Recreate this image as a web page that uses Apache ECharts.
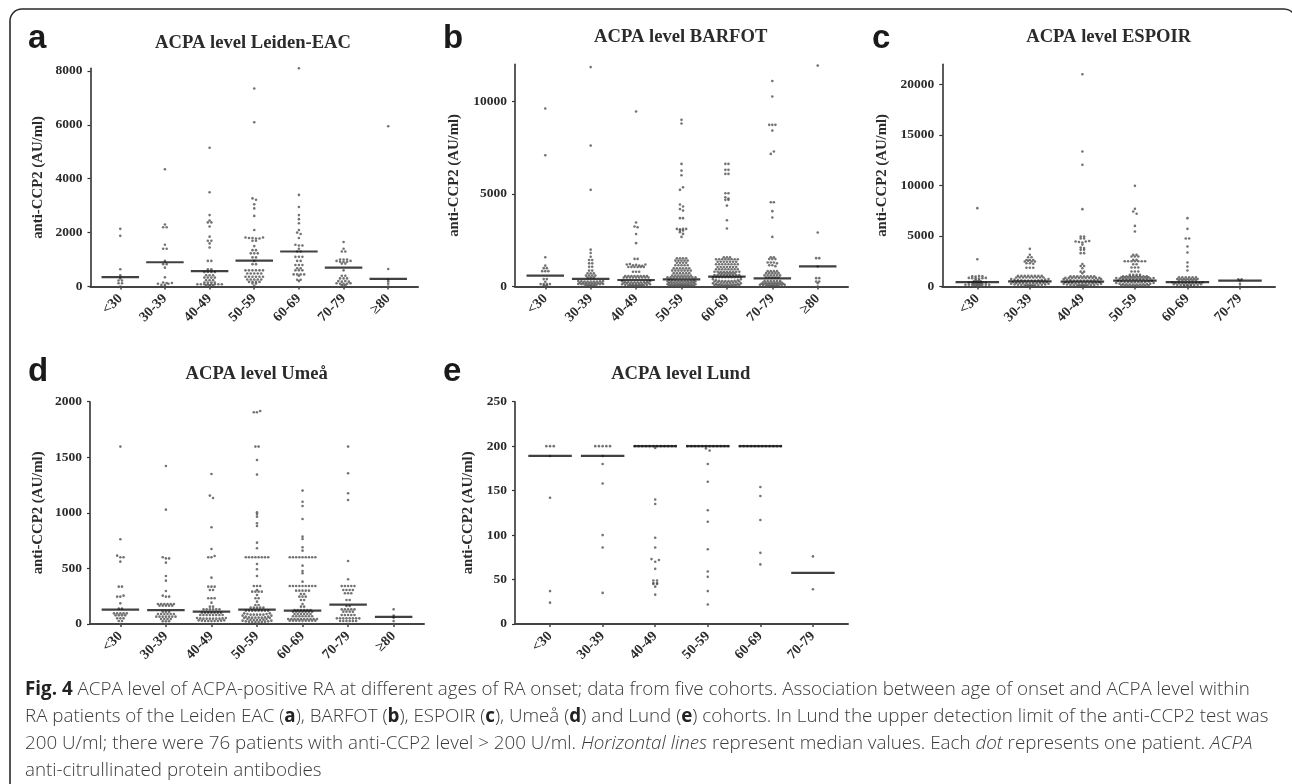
<!DOCTYPE html>
<html><head><meta charset="utf-8">
<style>html,body{margin:0;padding:0;background:#fff}#c{width:1292px;height:784px;filter:blur(0.35px)}</style>
<script src="https://cdn.jsdelivr.net/npm/echarts@6/dist/echarts.min.js"></script>
</head><body><div id="c"></div>
<script>
// Age groups
const agesSeven = ['<30','30-39','40-49','50-59','60-69','70-79','≥80'];
const agesSix = ['<30','30-39','40-49','50-59','60-69','70-79'];

// Tick labels
const leidenTicks = [0,2000,4000,6000,8000];
const barfotTicks = [0,5000,10000];
const espoirTicks = [0,5000,10000,15000,20000];
const umeaTicks = [0,500,1000,1500,2000];
const lundTicks = [0,50,100,150,200,250];

// Medians per age group
const leidenMedians = [350,900,570,960,1300,700,280];
const barfotMedians = [590,410,350,390,530,440,1090];
const espoirMedians = [430,510,480,580,430,590];
const umeaMedians = [130,125,111,130,120,175,65];
const lundMedians = [189,189,200,200,200,57.5];

// Patient values per age group; each inner list is one horizontal row of dots
const leidenRows = [
 [[2140],[1880],[640],[420],[300],[220,220],[120,120],[0]],
 [[4350],[2300],[2200,2200],[1550],[1400,1400],[950],[830,830],[700],[340],[150,130],[100,60,60,100,130],[0]],
 [[5150],[3500],[2650],[2450],[2380,2380],[2230],[1850],[1700,1700],[1600],[1450],[950,950],[640,640],[540,540,540,540],[420,420,420],[330,330,330,330],[235,235,235],[148,148,148,148],[85,85,85,85,85,85,85,85],[40,40,40],[0]],
 [[7350],[6100],[3270,3220],[3050],[2900],[2620],[2100],[1820,1800,1800,1780,1780,1820],[1700,1700],[1500],[1350,1350],[1230,1230,1230],[1080,1080],[950],[830,830],[600,600,600,600,600,600],[480,480,480,480,480],[360,360,360,360,360,360],[260,260,260,260,260],[170,170,170,170],[110,110],[30]],
 [[8100],[3400],[2950],[2650],[2500],[2350],[2100],[2000,1950],[1800],[1550,1520,1520],[1400],[1300,1300],[1100,1100,1100],[950,950],[800,800,800],[680,680],[600,600,600],[450,450,450,450],[400],[250,250],[200]],
 [[1650],[1400],[1300,1300],[1000,1000,1000],[950,920,920,920,950],[850,850],[600],[400,400],[300,300,300],[200,180,200,180],[120,100,100,100,120],[50,50],[0]],
 [[5950],[650],[250],[185],[100],[0]]
];
const barfotRows = [
 [[9610],[7090],[1580],[1130],[990,990],[830,830,830],[400,400],[260],[130,130,130,130],[70,70],[0]],
 [[11850],[7610],[5220],[1990],[1810],[1610],[1430,1430],[1250,1250],[1070,1070],[860,860],[710,710,710],[590,590,590,590],[480,480,480],[300,280,270,270,270,270,270,280,300],[200,190,180,180,180,180,190,200],[140,120,110,100,100,100,110,120,140],[40,40,40,40],[0]],
 [[9450],[3460],[3240,3200],[2830],[2340],[1490,1490],[1190,1210,1150,1170,1130,1120,1190],[1050,1050,1050,1050,1050,1050],[800,800,800],[570,570,570,570,570,570,570,570],[480,480,480,480,480,480,480,480,480],[290,260,240,230,230,230,230,240,260,290],[200,170,150,140,140,140,150,170,200],[120,90,70,60,50,50,60,70,90,120],[30,30,30,30,30],[0]],
 [[9000],[8800],[6620],[6260],[6010],[5220,5360],[4430,4320],[4180,4100],[3690,3690],[3110,3090,3110,3110],[3020,3020],[2930,2840],[2680],[1520,1520,1520,1520],[1400,1400,1400,1400,1400],[1280,1280,1280,1280],[1150,1150,1150,1150,1150],[980,980,980,980,980,980],[860,860,860,860,860,860,860],[720,720,720,720,720,720],[590,590,590,590,590,590,590],[500,500,500,500,500,500,500,500,500,500],[360,330,310,300,300,300,300,310,330],[270,240,220,210,210,210,210,220,240,270],[190,160,140,130,130,130,140,160,190],[120,90,70,60,60,60,60,70,90,120],[50,40,30,20,20,20,30,40,50],[0]],
 [[6620,6620],[6300,6300],[6080,6080],[5040,5040],[4820,4750],[4680,4680],[4370],[3580],[3130],[1575,1575,1575],[1470,1470,1470,1470,1470,1470,1470,1470],[1340,1340,1340,1340,1340,1340,1340],[1200,1200,1200,1200,1200,1200,1200,1200],[1055,1055,1055,1055,1055,1055,1055],[930,930,930,930,930,930,930,930],[800,800,800,800,800,800,800,800,800],[710,710,710,710,710,710],[620,620,620,620,620,620,620,620,620],[500,500,500,500,500,500,500,500,500,500],[390,340,310,300,290,290,300,310,340,390],[270,230,210,200,190,200,210,230,270],[170,130,110,100,90,90,100,110,130,170],[80,60,50,40,40,40,50,60,80],[0]],
 [[11100],[10260],[8730,8730,8730],[8420],[7160,7290],[4550,4550],[4070],[3730],[2680],[1580,1580],[1480,1480,1480],[1300,1300,1300,1250],[1150,1150,1100],[830,830,830,830],[720,720,720,720,720],[600,600,600,600,600,600],[480,480,480,480,480],[300,300,300,300,300,300],[220,200,200,200,200,200,220],[150,150,150,150,150,150,150,150],[90,80,70,70,70,70,70,80,90],[30,30,30,30],[0]],
 [[11930],[2920],[1530,1530],[1080],[450,450],[270,270],[180],[0]]
];
const espoirRows = [
 [[7755],[2700],[1020,980,1040,1020],[850,820,800,790,820,850],[650,650],[520,520,520],[400,400,400,400,400,400],[280,280,280],[170,170,170,170,170,170,170,170],[70,70,70],[0]],
 [[3730],[3150],[2900,2900],[2620,2620,2620],[2470,2550,2470,2470],[2300,2300,2250],[1850,1850,1850],[1050,1050,1050,1050,1050,1050,1050,1050],[890,890,890,890,890,890,890,890,890],[740,680,630,610,600,600,600,600,610,630,680,740],[440,380,340,320,310,300,310,320,340,380,440],[270,210,170,140,130,120,120,130,140,170,210,270],[70,70,70],[0]],
 [[21020],[13365],[12045],[7656],[4950,4950],[4750,4750],[4450,4400,4350,4450,4500],[4150],[3850,3800],[3630,3630],[3300,3300],[2230],[2030,2030],[1800],[1470,1470],[1300],[1000,1000,1000,1000,1000,1000,1000,1000],[850,850,850,850,850,850,850,850,850,850,850],[730,670,630,600,590,590,590,590,600,630,670,730],[430,370,330,300,290,280,290,300,330,370,430],[260,200,160,130,120,110,110,120,130,160,200,260],[70,70,70],[0]],
 [[9966],[7690],[7425,7200],[6000],[5445],[3135,3135],[2970,2970,2970],[2640,2640],[2500,2500,2500,2500,2500,2500,2500],[2200,2200],[1880,1880,1880],[1480,1480,1480],[1150,1150,1150,1150],[1000,1000,1000,1000,1000,1000,1000,1000],[900,900,900,900,900,900,900,900,900],[840,790,760,750,740,740,740,740,750,760,790,840],[560,490,450,430,420,410,420,430,450,490,560],[340,280,240,210,200,190,190,200,210,240,280,340],[120,90,70,60,50,60,70,90,120],[0]],
 [[6765],[5710],[4750,4750],[3960],[3366],[2376],[1980],[1584],[900,900,900,900,900,900],[750,750,750,750,750,750,750],[620,620,620,620,620,620],[420,370,340,320,320,320,320,340,370,420],[220,180,150,140,140,140,150,180,220],[70,70,70],[0]],
 [[720,720],[590],[270],[0]]
];
const umeaRows = [
 [[1596],[762],[615,600,600],[561],[336,336],[246,246,255],[186],[138,138],[96,96,96,96,96],[78,78,78,78],[51,51,51],[27,27],[0]],
 [[1422],[1029],[600,590,590],[552],[432],[390],[297],[255,246,246],[180,180,180,180,180,180],[165,165,165,165,165],[110,110,110],[90,90,90,90,90,90],[66,66,66,66,66,66,66],[45,45,45,45],[25,25,25],[0]],
 [[1350],[1155,1134],[870],[675],[600,600,612],[417],[336,336,336],[306,306],[231,231,231],[192],[156,156],[132,132,132,132,132,132],[102,102,102,102,102,102,102],[81,81,81,81,81,81,81,81],[54,51,48,48,48,48,48,48,51,54],[33,30,27,27,27,27,27,30,33],[0]],
 [[1905,1905,1917],[1596,1596],[1476],[1344],[1005],[990],[966],[906],[882],[732],[681],[600,600,600,600,600,600,600,600],[540],[492],[432],[342,342,342],[306],[291,291,291,291],[261],[231,231],[201],[171,171],[147,147,147,147,147],[120,120,120,120,120,120,120,120],[96,90,84,84,84,84,84,90,96],[75,66,60,57,57,57,57,60,66,75],[54,45,39,36,36,36,39,45,54],[30,24,21,18,18,18,18,21,24,30],[0]],
 [[1200],[1100],[1062],[945],[786],[765],[690],[660],[600,600,600,600,600,600,600,600,600],[525],[477],[456],[381],[342,342,342,342,342,342,342,342,342],[300,300,300,300,300],[270,270],[246,246,246],[216,216],[180],[156,156],[126,126,126,126,126,126],[110,110,110,110,110,110,110],[90,90,90,90,90,90],[70,70,70,70,70,70,70],[45,45,45,45,45,45,45,45,45,45],[30,30,30,30,30,30,30,30,30],[0]],
 [[1596],[1356],[1176],[1116],[567],[402],[342,342,342,342,342],[306,306,306,306],[276,276,276],[216,216],[162,162],[132,132,132,132,132],[111,111,111,111],[81,81,81,81,81],[51,51,51,51,51,51,51,51],[27,27,27,27,27,27],[0]],
 [[132],[75],[57],[27],[0]]
];
const lundRows = [
 [[200,200,200],[189],[142],[37],[24]],
 [[200,200,200,200,200],[189],[180],[158],[100],[86],[35]],
 [[200,200,200,200,200,200,200,200,200,200,200,200],[198],[140],[135],[97],[86],[73,70,72],[62],[49,49],[46,46],[45,45],[42],[33]],
 [[200,200,200,200,200,200,200,200,200,200,200,200],[197.5,195],[180],[160],[128],[115],[84],[59],[53],[37],[22]],
 [[200,200,200,200,200,200,200,200,200,200,200,200],[154],[144],[117],[80],[67]],
 [[76],[39]]
];

// Panel geometry
const panels = [
 {key:'a',title:'ACPA level Leiden-EAC',tx:253,ty:42.7,lx:28,ly:49,l:90.5,r:418,t:68.3,b:286.5,max:8100,cats:agesSeven,ticks:leidenTicks,rows:leidenRows,med:leidenMedians,gap:44.5,step:3.5,mw:37.5},
 {key:'b',title:'ACPA level BARFOT',tx:680.7,ty:36.7,lx:443,ly:49,l:515,r:848,t:64.3,b:286.5,max:12000,cats:agesSeven,ticks:barfotTicks,rows:barfotRows,med:barfotMedians,gap:53,step:3.1,mw:37.5},
 {key:'c',title:'ACPA level ESPOIR',tx:1108.7,ty:36.7,lx:872,ly:49,l:942.3,r:1275,t:64.3,b:286.5,max:22000,cats:agesSix,ticks:espoirTicks,rows:espoirRows,med:espoirMedians,gap:53,step:3.4,mw:43.5},
 {key:'d',title:'ACPA level Umeå',tx:256.7,ty:374,lx:28,ly:382,l:90,r:424,t:401.7,b:624,max:2000,cats:agesSeven,ticks:umeaTicks,rows:umeaRows,med:umeaMedians,gap:44.5,step:3.2,mw:37.5},
 {key:'e',title:'ACPA level Lund',tx:680.7,ty:374,lx:443,ly:382,l:515,r:848,t:401.7,b:624,max:250,cats:agesSix,ticks:lundTicks,rows:lundRows,med:lundMedians,gap:39.5,step:3.7,mw:43.5}
];
const serif = '"Liberation Serif","Times New Roman",serif';
const ink = '#2b2b2b';

const grids=[],xAxes=[],yAxes=[],series=[],titles=[],graphics=[];
panels.forEach((p,i)=>{
  const width=p.r-p.l, height=p.b-p.t;
  const xMin=-2/3, xMax=p.cats.length-1+2/3;
  const pxPerCat=width/(xMax-xMin);
  grids.push({left:p.l,top:p.t,width,height,containLabel:false});
  const catIdx=p.cats.map((_,k)=>k);
  xAxes.push({type:'value',gridIndex:i,min:xMin,max:xMax,splitLine:{show:false},
    axisLine:{show:true,onZero:false,lineStyle:{color:'#444',width:2}},
    axisTick:{show:true,length:3,customValues:catIdx,lineStyle:{color:'#444',width:1.5}},
    axisLabel:{customValues:catIdx,rotate:45,margin:10,color:ink,fontFamily:serif,fontWeight:'bold',fontSize:14,formatter:v=>p.cats[Math.round(v)]}});
  yAxes.push({type:'value',gridIndex:i,min:0,max:p.max,splitLine:{show:false},
    name:'anti-CCP2 (AU/ml)',nameLocation:'middle',nameGap:p.gap,nameRotate:90,
    nameTextStyle:{color:ink,fontFamily:serif,fontWeight:'bold',fontSize:14.8},
    axisLine:{show:true,onZero:false,lineStyle:{color:'#333',width:1.6}},
    axisTick:{show:true,length:3,customValues:p.ticks,lineStyle:{color:'#333',width:1.2}},
    axisLabel:{customValues:p.ticks,margin:8,color:ink,fontFamily:serif,fontWeight:'bold',fontSize:13.5,formatter:v=>String(v)}});
  const dots=[];
  p.rows.forEach((rows,c)=>rows.forEach(row=>row.forEach((v,j)=>{
    dots.push([c+(j-(row.length-1)/2)*p.step/pxPerCat,v]);
  })));
  series.push({type:'scatter',xAxisIndex:i,yAxisIndex:i,clip:false,symbol:'circle',symbolSize:2.6,silent:true,
    itemStyle:{color:'#505050'},data:dots,z:2});
  series.push({type:'scatter',xAxisIndex:i,yAxisIndex:i,clip:false,symbol:'rect',symbolSize:[p.mw,2.2],silent:true,
    itemStyle:{color:'#111'},data:p.med.map((m,c)=>[c,m]),z:3});
  titles.push({text:p.title,left:p.tx,top:p.ty,padding:0,textAlign:'center',textVerticalAlign:'middle',
    textStyle:{fontFamily:serif,fontWeight:'bold',fontSize:18.6,color:ink}});
  graphics.push({type:'text',left:p.lx,top:p.ly-27,silent:true,
    style:{text:p.key,font:'bold 33px "Liberation Sans",Arial,sans-serif',fill:'#1a1a1a'}});
});

// Frame
graphics.push({type:'rect',silent:true,shape:{x:10,y:9,width:1286,height:800,r:12},style:{fill:'none',stroke:'#2a2a2a',lineWidth:1.6}});

// Caption
const captionLines=[
 '{b|Fig. 4} ACPA level of ACPA-positive RA at different ages of RA onset; data from five cohorts. Association between age of onset and ACPA level within',
 'RA patients of the Leiden EAC ({b|a}), BARFOT ({b|b}), ESPOIR ({b|c}), Umeå ({b|d}) and Lund ({b|e}) cohorts. In Lund the upper detection limit of the anti-CCP2 test was',
 '200 U/ml; there were 76 patients with anti-CCP2 level > 200 U/ml. {i|Horizontal lines} represent median values. Each {i|dot} represents one patient. {i|ACPA}',
 'anti-citrullinated protein antibodies'
];
const capFont='"Open Sans","Noto Sans",sans-serif';
const capSize=18.8;
captionLines.forEach((t,i)=>{
  graphics.push({type:'text',silent:true,x:25,y:680+i*27,
    style:{text:t,fontFamily:capFont,fontSize:capSize,fontWeight:300,fill:'#3a3a3a',
      rich:{b:{fontFamily:capFont,fontSize:capSize,fontWeight:700,fill:'#222'},i:{fontFamily:capFont,fontSize:capSize,fontStyle:'italic',fontWeight:300,fill:'#3a3a3a'}}}});
});

const chart=echarts.init(document.getElementById('c'),null,{renderer:'canvas'});
chart.setOption({animation:false,backgroundColor:'#fff',title:titles,grid:grids,xAxis:xAxes,yAxis:yAxes,series,graphic:{elements:graphics},tooltip:{show:false}});
</script></body></html>
